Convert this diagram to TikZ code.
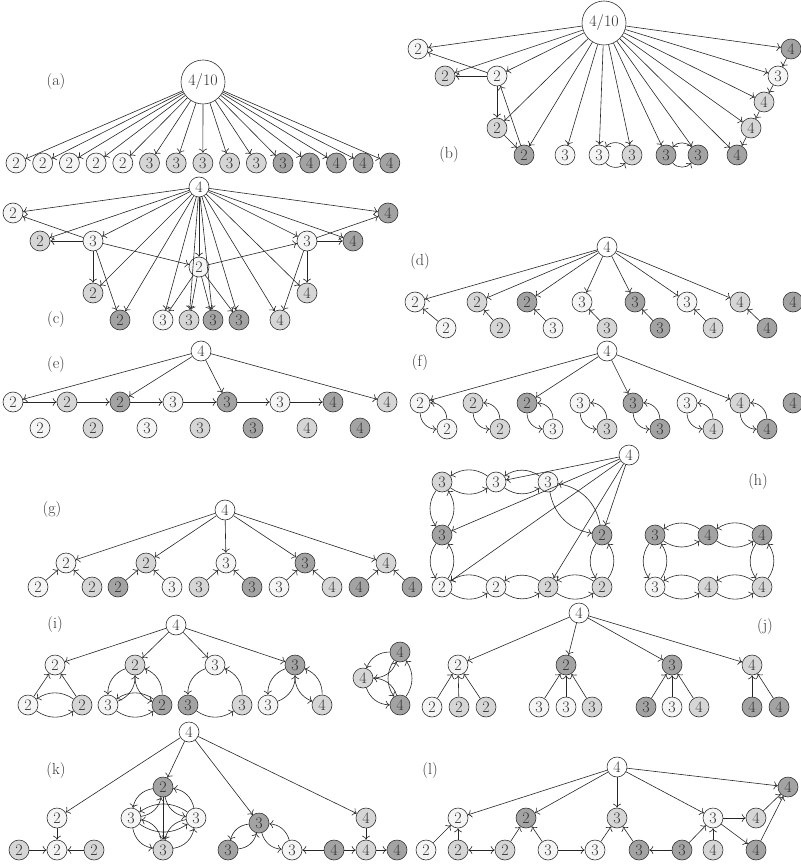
\documentclass[tikz,border=0pt]{standalone}
\usetikzlibrary{arrows.meta}
\colorlet{cw}{black!4}
\colorlet{cl}{black!16}
\colorlet{cd}{black!36}
\tikzset{
 vtx/.style={circle,draw=black!80,line width=0.6pt,minimum size=20pt,inner sep=0pt,text=black!80,font=\fontsize{16}{18}\selectfont},
 nW/.style={vtx,fill=cw}, nL/.style={vtx,fill=cl}, nD/.style={vtx,fill=cd},
 nR/.style={vtx,fill=white},
 nBig/.style={vtx,fill=white,minimum size=44pt},
 lab/.style={text=black!80,font=\fontsize{16}{18}\selectfont},
 ar/.style={draw=black!85,line width=0.6pt,-{To[length=4pt,width=8pt]}},
 bp/.style={ar,bend right=35}
}
\begin{document}
\begin{tikzpicture}[x=1pt,y=-1pt]
\useasboundingbox (0,0) rectangle (800,866);
% ---------------- (a)
\node[lab] (la) at (56,82) {(a)};
\node[nBig] (aR) at (203,82) {4/10};
\foreach \t/\c [count=\i] in {2/cw,2/cw,2/cw,2/cw,2/cw,3/cl,3/cl,3/cl,3/cl,3/cl,3/cd,4/cd,4/cd,4/cd,4/cd}{
  \node[vtx,fill=\c] (a\i) at ({16+26.7*(\i-1)},163) {\t};
  \draw[ar] (aR) -- (a\i);
}
% ---------------- (b)
\node[lab] (lb) at (449,155) {(b)};
\node[nBig] (bR) at (604,23) {4/10};
\node[nW] (b1) at (418,49) {2};
\node[nL] (b2) at (445,76) {2};
\node[nW] (b3) at (497,76) {2};
\node[nL] (b4) at (497,128) {2};
\node[nD] (b5) at (524,155) {2};
\node[nW] (b6) at (565,155) {3};
\node[nW] (b7) at (599,155) {3};
\node[nL] (b8) at (632,155) {3};
\node[nD] (b9) at (666,155) {3};
\node[nD] (b10) at (698,155) {3};
\node[nD] (b11) at (737,155) {4};
\node[nL] (b12) at (751,128) {4};
\node[nL] (b13) at (764,102) {4};
\node[nW] (b14) at (778,76) {3};
\node[nD] (b15) at (791,49) {4};
\foreach \i in {1,...,15}{\draw[ar] (bR) -- (b\i);}
\draw[ar] (b3) -- (b1);
\draw[ar] (b3) -- (b2);
\draw[ar] (b3) -- (b4);
\draw[ar] (b4) -- (b5);
\draw[ar] (b5) -- (b3);
\draw[ar] (b15) -- (b14);
\draw[ar] (b14) -- (b13);
\draw[ar] (b13) -- (b12);
\draw[ar] (b12) -- (b11);
\foreach \a/\b in {b7/b8,b9/b10}{\draw[bp,bend right=50] (\a) to (\b); \draw[bp,bend right=50] (\b) to (\a);}
% ---------------- (c)
\node[lab] (lc) at (56,320) {(c)};
\node[nR] (cR) at (199,187) {4};
\node[nW] (c1) at (13,213) {2};
\node[nL] (c2) at (40,241) {2};
\node[nW] (c3) at (93,241) {3};
\node[nL] (c4) at (93,293) {2};
\node[nD] (c5) at (120,320) {2};
\node[nW] (c6) at (163,320) {3};
\node[nL] (c7) at (189,320) {3};
\node[nD] (c8) at (213,320) {3};
\node[nD] (c9) at (239,320) {3};
\node[nL] (c10) at (280,320) {4};
\node[nL] (c11) at (307,293) {4};
\node[nW] (c12) at (307,241) {3};
\node[nD] (c13) at (353,241) {4};
\node[nD] (c14) at (388,213) {4};
\node[nW] (c15) at (199,267) {2};
\foreach \i in {1,...,15}{\draw[ar] (cR) -- (c\i);}
\foreach \b in {c1,c2,c4,c5,c15}{\draw[ar] (c3) -- (\b);}
\foreach \b in {c6,c7,c8,c9,c12}{\draw[ar] (c15) -- (\b);}
\foreach \b in {c10,c11,c13,c14}{\draw[ar] (c12) -- (\b);}
% ---------------- (d)
\node[lab] (ld) at (420,262) {(d)};
\node[nR] (dR) at (607,247) {4};
\node[nW] (d1) at (415,302) {2};
\node[nL] (d2) at (477,302) {2};
\node[nD] (d3) at (527,302) {2};
\node[nW] (d4) at (582,302) {3};
\node[nD] (d5) at (635,302) {3};
\node[nW] (d6) at (687,302) {3};
\node[nL] (d7) at (740,302) {4};
\node[nD] (d8) at (793,302) {4};
\node[nW] (db1) at (446,328) {2};
\node[nL] (db2) at (500,328) {2};
\node[nW] (db3) at (553,328) {3};
\node[nL] (db4) at (607,328) {3};
\node[nD] (db5) at (660,328) {3};
\node[nL] (db6) at (713,328) {4};
\node[nD] (db7) at (767,328) {4};
\foreach \i in {1,...,7}{\draw[ar] (dR) -- (d\i); \draw[ar] (db\i) -- (d\i);}
% ---------------- (e)
\node[lab] (le) at (56,365) {(e)};
\node[nR] (eR) at (201,351) {4};
\node[nW] (e1) at (13,402) {2};
\node[nL] (e2) at (67,402) {2};
\node[nD] (e3) at (120,402) {2};
\node[nW] (e4) at (173,402) {3};
\node[nD] (e5) at (227,402) {3};
\node[nW] (e6) at (280,402) {3};
\node[nD] (e7) at (333,402) {4};
\node[nL] (e8) at (387,402) {4};
\node[nW] (eb1) at (40,428) {2};
\node[nL] (eb2) at (93,428) {2};
\node[nW] (eb3) at (147,428) {3};
\node[nL] (eb4) at (200,428) {3};
\node[nD] (eb5) at (253,428) {3};
\node[nL] (eb6) at (307,428) {4};
\node[nD] (eb7) at (360,428) {4};
\foreach \b in {e1,e3,e5,e8}{\draw[ar] (eR) -- (\b);}
\foreach \a/\b in {e1/e2,e2/e3,e3/e4,e4/e5,e5/e6,e6/e7}{\draw[ar] (\a) -- (\b);}
% ---------------- (f)
\node[lab] (lf) at (420,363) {(f)};
\node[nR] (fR) at (607,351) {4};
\node[nW] (f1) at (420,403) {2};
\node[nL] (f2) at (473,403) {2};
\node[nD] (f3) at (527,403) {2};
\node[nW] (f4) at (580,403) {3};
\node[nD] (f5) at (633,403) {3};
\node[nW] (f6) at (687,403) {3};
\node[nL] (f7) at (740,403) {4};
\node[nD] (f8) at (793,403) {4};
\node[nW] (fb1) at (447,429) {2};
\node[nL] (fb2) at (500,429) {2};
\node[nW] (fb3) at (553,429) {3};
\node[nL] (fb4) at (607,429) {3};
\node[nD] (fb5) at (660,429) {3};
\node[nL] (fb6) at (713,429) {4};
\node[nD] (fb7) at (767,429) {4};
\foreach \b in {f1,f3,f5,f7}{\draw[ar] (fR) -- (\b);}
\foreach \i in {1,...,7}{\draw[bp,bend right=45] (f\i) to (fb\i); \draw[bp,bend right=45] (fb\i) to (f\i);}
% ---------------- (g)
\node[lab] (lg) at (52,510) {(g)};
\node[nR] (gR) at (225,510) {4};
\node[nW] (g1) at (66,563) {2};
\node[nL] (g2) at (146,563) {2};
\node[nW] (g3) at (226,563) {3};
\node[nD] (g4) at (305,563) {3};
\node[nL] (g5) at (386,563) {4};
\node[nW] (gb1) at (38,587) {2};
\node[nL] (gb2) at (92,587) {2};
\node[nD] (gb3) at (118,587) {2};
\node[nW] (gb4) at (172,587) {3};
\node[nL] (gb5) at (199,587) {3};
\node[nD] (gb6) at (252,587) {3};
\node[nW] (gb7) at (279,587) {3};
\node[nL] (gb8) at (332,587) {4};
\node[nD] (gb9) at (359,587) {4};
\node[nD] (gb10) at (412,587) {4};
\foreach \i in {1,...,5}{\draw[ar] (gR) -- (g\i);}
\foreach \a/\b in {gb1/g1,gb2/g1,gb3/g2,gb4/g2,gb5/g3,gb6/g3,gb7/g4,gb8/g4,gb9/g5,gb10/g5}{\draw[ar] (\a) -- (\b);}
% ---------------- (h)
\node[lab] (lh) at (758,482) {(h)};
\node[nR] (hR) at (629,455) {4};
\node[nL] (h1) at (442,482) {3};
\node[nW] (h2) at (496,482) {3};
\node[nW] (h3) at (548,482) {3};
\node[nD] (h4) at (442,535) {3};
\node[nD] (h5) at (602,535) {2};
\node[nW] (h6) at (442,587) {2};
\node[nW] (h7) at (496,587) {2};
\node[nL] (h8) at (548,587) {2};
\node[nL] (h9) at (602,587) {2};
\node[nD] (h10) at (655,535) {3};
\node[nD] (h11) at (708,535) {4};
\node[nD] (h12) at (762,535) {4};
\node[nW] (h13) at (655,587) {3};
\node[nL] (h14) at (708,587) {4};
\node[nL] (h15) at (762,587) {4};
\foreach \b in {h2,h4,h6,h8,h5}{\draw[ar] (hR) -- (\b);}
\foreach \a/\b in {h1/h2,h2/h3,h4/h1,h6/h4,h6/h7,h7/h8,h8/h9,h9/h5,h3/h5,h10/h11,h11/h12,h13/h10,h13/h14,h14/h15,h15/h12}{\draw[bp] (\a) to (\b); \draw[bp] (\b) to (\a);}
% ---------------- (i)
\node[lab] (li) at (55,625) {(i)};
\node[nR] (iR) at (176,625) {4};
\node[nW] (i1) at (55,665) {2};
\node[nL] (i2) at (135,665) {2};
\node[nW] (i3) at (215,665) {3};
\node[nD] (i4) at (295,665) {3};
\node[nW] (ib1) at (28,705) {2};
\node[nL] (ib2) at (82,705) {2};
\node[nW] (ib3) at (108,705) {3};
\node[nD] (ib4) at (162,705) {2};
\node[nD] (ib5) at (188,705) {3};
\node[nL] (ib6) at (242,705) {3};
\node[nW] (ib7) at (268,705) {3};
\node[nL] (ib8) at (322,705) {4};
\node[nD] (ik1) at (400,652) {4};
\node[nL] (ik2) at (363,678) {4};
\node[nD] (ik3) at (400,705) {4};
\foreach \i in {1,...,4}{\draw[ar] (iR) -- (i\i);}
\draw[ar] (ib1) -- (i1);
\draw[ar] (ib2) -- (i1);
\foreach \a/\b in {ib1/ib2,i2/ib3,ib4/i2,ib3/ib4,i4/ib7,ib8/i4,ik2/ik1,ik3/ik2,ik1/ik3}{\draw[bp] (\a) to (\b); \draw[bp] (\b) to (\a);}
\draw[bp] (i3) to (ib5);
\draw[bp] (ib6) to (i3);
\draw[bp] (ib5) to (ib6);
% ---------------- (j)
\node[lab] (lj) at (765,627) {(j)};
\node[nR] (jR) at (579,613) {4};
\node[nW] (j1) at (458,665) {2};
\node[nD] (j2) at (566,665) {2};
\node[nD] (j3) at (672,665) {3};
\node[nL] (j4) at (752,665) {4};
\node[nW] (jb1) at (432,707) {2};
\node[nL] (jb2) at (459,707) {2};
\node[nL] (jb3) at (486,707) {2};
\node[nW] (jb4) at (539,707) {3};
\node[nW] (jb5) at (566,707) {3};
\node[nL] (jb6) at (592,707) {3};
\node[nD] (jb7) at (646,707) {3};
\node[nW] (jb8) at (672,707) {3};
\node[nL] (jb9) at (699,707) {4};
\node[nD] (jb10) at (752,707) {4};
\node[nD] (jb11) at (779,707) {4};
\foreach \i in {1,...,4}{\draw[ar] (jR) -- (j\i);}
\foreach \a/\b in {jb1/j1,jb2/j1,jb3/j1,jb4/j2,jb5/j2,jb6/j2,jb7/j3,jb8/j3,jb9/j3,jb10/j4,jb11/j4}{\draw[ar] (\a) -- (\b);}
% ---------------- (k)
\node[lab] (lk) at (56,770) {(k)};
\node[nR] (kR) at (189,732) {4};
\node[nW] (k1) at (57,818) {2};
\node[nD] (kD) at (163,787) {2};
\node[nW] (kL) at (131,818) {3};
\node[nW] (kRt) at (196,818) {3};
\node[nL] (kB) at (163,850) {3};
\node[nD] (k3) at (259,823) {3};
\node[nL] (k4) at (366,818) {4};
\node[nL] (kb1) at (19,850) {2};
\node[nW] (kb2) at (57,850) {2};
\node[nL] (kb3) at (94,850) {2};
\node[nD] (kb4) at (228,850) {3};
\node[nW] (kb5) at (292,850) {3};
\node[nD] (kb6) at (334,850) {4};
\node[nL] (kb7) at (366,850) {4};
\node[nD] (kb8) at (397,850) {4};
\foreach \b in {k1,kD,k3,k4}{\draw[ar] (kR) -- (\b);}
\draw[ar] (k1) -- (kb2);
\draw[ar] (kb1) -- (kb2);
\draw[ar] (kb3) -- (kb2);
\foreach \a/\b in {kD/kL,kRt/kD,kL/kB,kB/kRt,kL/kRt,k3/kb4,kb5/k3}{\draw[bp] (\a) to (\b); \draw[bp] (\b) to (\a);}
\draw[ar] (kD) -- (kB);
\draw[ar] (kb6) -- (kb5);
\draw[ar] (k4) -- (kb7);
\draw[ar] (kb6) -- (kb7);
\draw[ar] (kb7) -- (kb8);
% ---------------- (l)
\node[lab] (ll) at (430,770) {(l)};
\node[nR] (lR) at (617,767) {4};
\node[nW] (l1) at (458,818) {2};
\node[nD] (l2) at (526,818) {2};
\node[nL] (l3) at (617,818) {3};
\node[nW] (l4) at (713,818) {3};
\node[nL] (l5) at (756,818) {4};
\node[nD] (l6) at (788,787) {4};
\node[nW] (lb1) at (426,850) {2};
\node[nL] (lb2) at (458,850) {2};
\node[nL] (lb3) at (505,850) {2};
\node[nW] (lb4) at (548,850) {3};
\node[nW] (lb5) at (595,850) {3};
\node[nD] (lb6) at (639,850) {3};
\node[nD] (lb7) at (682,850) {3};
\node[nL] (lb8) at (713,850) {4};
\node[nD] (lb9) at (756,850) {4};
\foreach \b in {l1,l2,l3,l4,l6}{\draw[ar] (lR) -- (\b);}
\foreach \a/\b in {lb1/l1,lb2/l1,lb3/l2,lb4/l2,lb4/lb5,lb5/l3,lb6/l3,lb7/lb6,lb7/l4,lb8/l4,l4/l5,l4/lb9,l5/l6,lb9/l6}{\draw[ar] (\a) -- (\b);}
\draw[ar,{To[length=4pt,width=8pt]}-{To[length=4pt,width=8pt]}] (lb2) -- (lb3);
\end{tikzpicture}
\end{document}
